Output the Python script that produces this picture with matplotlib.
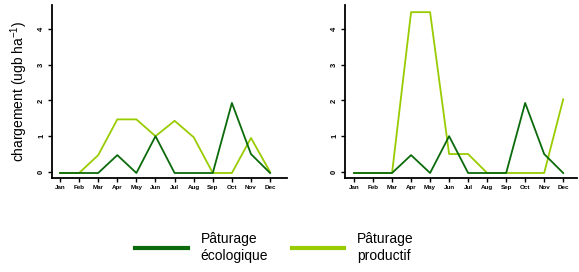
import numpy as np
import matplotlib
matplotlib.use('Agg')
import matplotlib.pyplot as plt

plt.rcParams['font.family'] = ['Liberation Sans', 'DejaVu Sans']
plt.rcParams['mathtext.default'] = 'regular'

months = ['Jan', 'Feb', 'Mar', 'Apr', 'May', 'Jun',
          'Jul', 'Aug', 'Sep', 'Oct', 'Nov', 'Dec']
yticks = [0, 1, 2, 3, 4]

# left panel
eco_left = [-0.03, -0.03, -0.03, 0.47, -0.03, 1.0,
            -0.03, -0.03, -0.03, 1.93, 0.5, -0.03]
prod_left = [-0.03, -0.03, 0.47, 1.47, 1.47, 1.0,
             1.43, 0.97, -0.03, -0.03, 0.95, 0.0]
# right panel
eco_right = [-0.03, -0.03, -0.03, 0.47, -0.03, 1.0,
             -0.03, -0.03, -0.03, 1.93, 0.5, -0.03]
prod_right = [-0.03, -0.03, -0.03, 4.47, 4.47, 0.5,
              0.5, -0.03, -0.03, -0.03, -0.03, 2.03]

dark = '#0b6b0b'
light = '#99cc00'

fig = plt.figure(figsize=(5.79, 2.72), dpi=100)
ax1 = fig.add_axes([0.0898, 0.3456, 0.406, 0.636])
ax2 = fig.add_axes([0.596, 0.3456, 0.401, 0.636])

x = np.arange(1, 13)
for ax, eco, prod, xlim in [(ax1, eco_left, prod_left, (0.58, 12.89)),
                            (ax2, eco_right, prod_right, (0.53, 12.74))]:
    ax.plot(x, prod, color=light, lw=1.3, label='Pâturage\nproductif')
    ax.plot(x, eco, color=dark, lw=1.3, label='Pâturage\nécologique')
    ax.set_xlim(*xlim)
    ax.set_ylim(-0.17, 4.67)
    ax.set_xticks(x)
    ax.set_xticklabels(months, fontsize=4.5, fontweight='bold')
    ax.set_yticks(yticks)
    ax.set_yticklabels([str(v) for v in yticks], fontsize=5.5,
                       fontweight='bold', rotation=90, va='center')
    for s in ['top', 'right']:
        ax.spines[s].set_visible(False)
    for s in ['left', 'bottom']:
        ax.spines[s].set_linewidth(1.3)
    ax.tick_params(length=3, width=1.0, pad=2)

ax1.set_ylabel('chargement (ugb ha$^{-1}$)', fontsize=10)
ax1.yaxis.set_label_coords(-0.092, 0.503)

handles, labels = ax1.get_legend_handles_labels()
leg = fig.legend(handles[::-1], labels[::-1], ncol=2, loc='center',
                 bbox_to_anchor=(0.474, 0.09), frameon=False, fontsize=10,
                 handlelength=3.8, handletextpad=0.9, columnspacing=1.7)
for line in leg.get_lines():
    line.set_linewidth(3)

fig.savefig('out.png', dpi=100)
